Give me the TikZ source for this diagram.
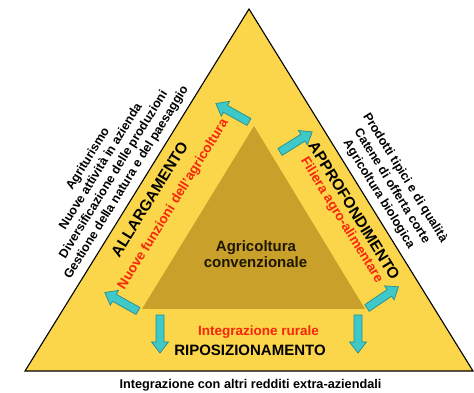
\documentclass[tikz,border=0pt]{standalone}
\usepackage{fontspec}
\setmainfont{Liberation Sans}
\definecolor{yellowmain}{HTML}{FCD64A}
\definecolor{goldinner}{HTML}{C9A02A}
\definecolor{arrcyan}{HTML}{3EC8C8}
\definecolor{arrdark}{HTML}{2A8C8C}
\definecolor{redtext}{HTML}{F5260A}
\definecolor{textdark}{HTML}{1E1600}
\tikzset{
  outertri/.style={fill=yellowmain, draw=black, line width=1.1pt, line join=miter},
  innertri/.style={fill=goldinner},
  blockarr/.style={fill=arrcyan, draw=arrdark, line width=0.7pt, line join=miter},
  sidetext/.style={font=\bfseries\fontsize{12.5}{14}\selectfont, inner sep=0pt, anchor=base},
  bigtext/.style={font=\bfseries\fontsize{15.5}{17}\selectfont, inner sep=0pt, anchor=base},
  redlab/.style={font=\bfseries\fontsize{13.5}{15}\selectfont, text=redtext, inner sep=0pt, anchor=base},
}
\newcommand{\blockarrow}[3]{%
  \begin{scope}[shift={(#1,#2)}, rotate=#3]
    \draw[blockarr] (0,-4) -- (27,-4) -- (27,-8.5) -- (38,0) -- (27,8.5) -- (27,4) -- (0,4) -- cycle;
  \end{scope}}
\begin{document}
\begin{tikzpicture}[x=1pt,y=1pt]
\useasboundingbox (0,0) rectangle (474,393);
% triangles
\coordinate (A) at (249,384);
\coordinate (B) at (25,22);
\coordinate (C) at (473,22);
\draw[outertri] (A) -- (B) -- (C) -- cycle;
\coordinate (D) at (254,267);
\coordinate (E) at (142,84);
\coordinate (F) at (365,84);
\fill[innertri] (D) -- (E) -- (F) -- cycle;
% arrows
\blockarrow{249}{271}{150.8}
\blockarrow{280}{241}{32}
\blockarrow{138}{82}{150.8}
\blockarrow{367}{85}{34}
\blockarrow{160}{78}{-90}
\blockarrow{358}{78}{-90}
% centre
\node[bigtext, text=textdark, font=\bfseries\fontsize{15}{16}\selectfont] (agri1) at (256,141) {Agricoltura};
\node[bigtext, text=textdark, font=\bfseries\fontsize{15}{16}\selectfont] (agri2) at (255.5,125) {convenzionale};
% bottom
\node[redlab] (integr) at (258.5,57) {Integrazione rurale};
\node[bigtext, font=\bfseries\fontsize{15}{16}\selectfont] (ripos) at (250,37) {RIPOSIZIONAMENTO};
\node[sidetext, font=\bfseries\fontsize{12.7}{14}\selectfont] (caption) at (250.5,4) {Integrazione con altri redditi extra-aziendali};
% left side
\node[bigtext, rotate=58.25] (allarg) at (154.05,190.75) {ALLARGAMENTO};
\node[redlab, rotate=58.25] (nuove) at (176.3,186.6) {Nuove funzioni dell'agricoltura};
\node[sidetext, rotate=58.25] (l1) at (91.1,232.3) {Agriturismo};
\node[sidetext, rotate=58.25] (l2) at (103.8,224.4) {Nuove attività in azienda};
\node[sidetext, rotate=58.25] (l3) at (116.6,216.5) {Diversificazione delle produzioni};
\node[sidetext, rotate=58.25] (l4) at (129.3,208.6) {Gestione della natura e del paesaggio};
% right side
\node[bigtext, rotate=-58.25] (approf) at (349.7,179.4) {APPROFONDIMENTO};
\node[redlab, rotate=-58.25] (filiera) at (338.6,170.75) {Filiera agro-alimentare};
\node[sidetext, rotate=-58.25] (r1) at (402.2,213.3) {Prodotti tipici e di qualità};
\node[sidetext, rotate=-58.25] (r2) at (389.05,205.15) {Catene di offerta corte};
\node[sidetext, rotate=-58.25] (r3) at (375.9,197.0) {Agricoltura biologica};
\end{tikzpicture}
\end{document}
